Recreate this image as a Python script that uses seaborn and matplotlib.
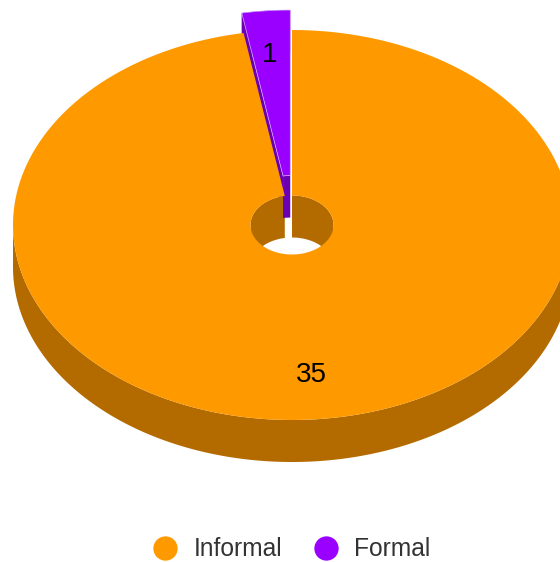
import numpy as np
import matplotlib
matplotlib.use("Agg")
import matplotlib.pyplot as plt
from matplotlib.lines import Line2D
import seaborn as sns

categories = ["Informal", "Formal"]
values = [35, 1]
top_colors = ["#FF9900", "#9900FF"]
wall_colors = ["#B36B00", "#6B00B3"]

sns.set_theme(style="white")
plt.rcParams["font.family"] = ["Liberation Sans", "DejaVu Sans"]
palette = sns.color_palette(top_colors)
wall_palette = sns.color_palette(wall_colors)

W, H = 560, 562
CX, CY, RX, RY = 292.0, 225.0, 279.0, 195.0
HX, HY = 41.5, 29.5
DEPTH = 42.0
EXPLODE = 20.0

fig = plt.figure(figsize=(W / 100, H / 100), dpi=100)
ax = fig.add_axes([0, 0, 1, 1])
ax.set_xlim(0, W)
ax.set_ylim(H, 0)
ax.axis("off")


def arc(t0, t1, rx, ry, cx=CX, cy=CY, n=200):
    t = np.radians(np.linspace(t0, t1, n))
    return np.column_stack([cx + rx * np.sin(t), cy - ry * np.cos(t)])


def band(points, depth=DEPTH):
    return np.vstack([points, (points + [0, depth])[::-1]])


def wedge(t0, t1, cx, cy):
    return np.vstack([arc(t0, t1, RX, RY, cx, cy), arc(t1, t0, HX, HY, cx, cy)])


split = 360.0 * values[0] / sum(values)
mid = np.radians((split + 360.0) / 2)
ox, oy = CX + EXPLODE * np.sin(mid), CY - EXPLODE * np.cos(mid)

# Cut face and outer wall of the pulled-out slice sit behind everything else
edge = np.vstack([arc(split, split, RX, RY, ox, oy, 1), arc(split, split, HX, HY, ox, oy, 1)])
ax.fill(*band(edge).T, color=wall_palette[1], lw=0, zorder=0.5)
ax.fill(*band(arc(split, 360, RX, RY, ox, oy)).T, color=wall_palette[1], lw=0, zorder=0.5)

# Inner wall of the hole (back half), outer wall (front half)
ax.fill(*band(arc(270, split, HX, HY)).T, color=wall_palette[0], lw=0, zorder=1)
ax.fill(*band(arc(0, 90, HX, HY)).T, color=wall_palette[0], lw=0, zorder=1)
ax.fill(*band(arc(90, 270, RX, RY)).T, color=wall_palette[0], lw=0, zorder=1)

# Inner wall of the pulled-out slice
ax.fill(*band(arc(split, 360, HX, HY, ox, oy)).T, color=wall_palette[1], lw=0, zorder=2)

# Top faces
ax.fill(*wedge(0, split, CX, CY).T, color=palette[0], lw=0, zorder=3)
ax.fill(*wedge(split, 360, ox, oy).T, facecolor=palette[1],
        edgecolor="#D9A6FF", lw=0.5, zorder=4)

# Value labels
ax.text(311, 374.5, str(values[0]), ha="center", va="center", fontsize=20,
        color="black", zorder=5)
ax.text(270, 55, str(values[1]), ha="center", va="center", fontsize=20,
        color="black", zorder=5)

handles = [Line2D([], [], ls="", marker="o", ms=17.5, mfc=c, mec=c, mew=0)
           for c in palette]
ax.legend(handles, categories, loc="center", bbox_to_anchor=(291.5 / W, 1 - 549.5 / H),
          ncol=2, frameon=False, fontsize=17.7, labelcolor="#333333",
          handletextpad=0.67, columnspacing=1.27, handlelength=1.0, borderpad=0)

fig.savefig("out.png", dpi=100, facecolor="white")
